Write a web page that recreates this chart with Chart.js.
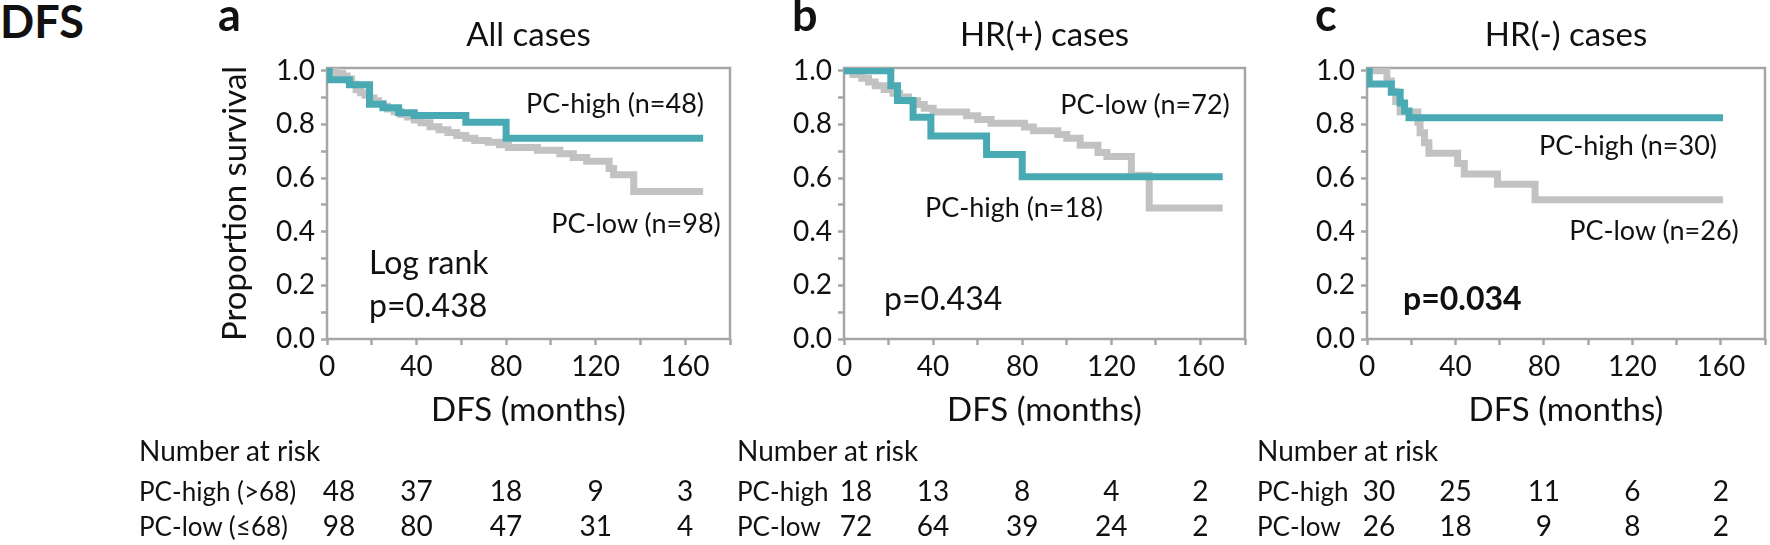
<!DOCTYPE html>
<html><head><meta charset="utf-8">
<script src="https://cdn.jsdelivr.net/npm/chart.js@4"></script>
<style>
html,body{margin:0;padding:0;background:#fff;}
#root{position:relative;width:1770px;height:545px;overflow:hidden;font-family:Lato,sans-serif;color:#111;}
canvas{position:absolute;top:0;}
.t{position:absolute;white-space:nowrap;line-height:1;}
</style></head><body><div id="root"></div>
<script>
// ---------- DATA ----------
const xTickValues = [0,20,40,60,80,100,120,140,160,180];
const xLabelValues = [0,40,80,120,160];
const yTickValues = [0,0.1,0.2,0.3,0.4,0.5,0.6,0.7,0.8,0.9,1.0];
const riskTimes = [0,40,80,120,160];

// Panel a: All cases
const aHighT = [0,1,10,19,25,32,39,62,80,168];
const aHighS = [1,0.966,0.948,0.875,0.862,0.843,0.833,0.808,0.748,0.748];
const aLowT = [0,4,7,9,11,13,15,17,19,21,23,25,27,30,33,36,39,42,46,50,54,58,62,66,72,77,81,94,104,110,116,126,128,137,168];
const aLowS = [1,0.99,0.98,0.969,0.949,0.929,0.918,0.908,0.898,0.888,0.878,0.867,0.857,0.847,0.837,0.827,0.816,0.806,0.791,0.78,0.77,0.758,0.748,0.74,0.733,0.724,0.714,0.703,0.69,0.676,0.662,0.635,0.612,0.55,0.55];
// Panel b: HR(+) cases
const bHighT = [0,21,24,31,39,64,80,170];
const bHighS = [1,0.944,0.889,0.826,0.757,0.688,0.605,0.605];
const bLowT = [0,4,8,11,14,18,22,25,29,33,36,40,55,60,66,81,85,96,100,106,114,118,129,137,170];
const bLowS = [1,0.986,0.972,0.958,0.944,0.93,0.916,0.902,0.888,0.874,0.86,0.846,0.832,0.818,0.804,0.79,0.776,0.762,0.748,0.722,0.695,0.68,0.61,0.488,0.488];
// Panel c: HR(-) cases
const cHighT = [0,1,11,15,17,19,161];
const cHighS = [1,0.95,0.92,0.88,0.85,0.825,0.825];
const cLowT = [0,9,11,13,15,23,24,26,28,41,44,59,76,161];
const cLowS = [1,0.962,0.923,0.885,0.846,0.808,0.769,0.731,0.692,0.654,0.615,0.577,0.519,0.519];

// Number at risk
const aRiskHigh = [48,37,18,9,3];
const aRiskLow = [98,80,47,31,4];
const bRiskHigh = [18,13,8,4,2];
const bRiskLow = [72,64,39,24,2];
const cRiskHigh = [30,25,11,6,2];
const cRiskLow = [26,18,9,8,2];

const aLabels = ['PC-high (>68)','PC-low (\u226468)'];
const bLabels = ['PC-high','PC-low'];
const cLabels = ['PC-high','PC-low'];

// ---------- STYLE ----------
const TEAL = '#49aab3';
const GREY = '#c2c2c2';
const AXIS = '#a6a6a6';
const FONT = 'Lato';
const root = document.getElementById('root');

function txt(s, x, base, size, opts) {
  opts = opts || {};
  const d = document.createElement('div');
  d.className = 't';
  d.textContent = s;
  d.style.fontSize = size + 'px';
  d.style.fontWeight = opts.bold ? '700' : '400';
  d.style.top = (base - 0.887 * size) + 'px';
  if (opts.align === 'center') { d.style.left = x + 'px'; d.style.transform = 'translateX(-50%)'; }
  else if (opts.align === 'right') { d.style.right = (1770 - x) + 'px'; }
  else { d.style.left = x + 'px'; }
  root.appendChild(d);
  return d;
}

const framePlugin = {
  id: 'frame',
  beforeDatasetsDraw(chart) {
    const {ctx, chartArea: {left, top, right, bottom}} = chart;
    ctx.save();
    ctx.strokeStyle = AXIS;
    ctx.lineWidth = 2.5;
    ctx.strokeRect(left, top, right - left, bottom - top);
    ctx.restore();
  }
};

function xy(T, S) { return T.map((t, i) => ({x: t, y: S[i]})); }

function makePanel(p) {
  const cv = document.createElement('canvas');
  cv.width = p.w; cv.height = 440;
  cv.style.left = p.left + 'px';
  root.appendChild(cv);
  const yScale = {
    type: 'linear', min: 0, max: 1.01,
    afterBuildTicks: s => { s.ticks = yTickValues.map(v => ({value: v})); },
    afterFit: s => { s.width = p.yw; },
    ticks: {
      autoSkip: false, padding: 6, color: '#111',
      font: {family: FONT, size: 28},
      callback: v => (Math.round(v * 10) % 2 === 0) ? v.toFixed(1) : ''
    },
    grid: {display: true, drawOnChartArea: false, drawTicks: true, tickLength: 6, tickColor: AXIS, tickWidth: 2.5},
    border: {display: false}
  };
  if (p.yTitle) {
    yScale.title = {display: true, text: 'Proportion survival', color: '#111',
      font: {family: FONT, size: 33}, padding: {top: 36, bottom: 0}};
  }
  const chart = new Chart(cv, {
    type: 'line',
    data: {datasets: [
      {data: xy(p.hT, p.hS), borderColor: TEAL, borderWidth: 7, stepped: true, pointRadius: 0, fill: false, order: 0, borderJoinStyle: 'miter', borderCapStyle: 'butt'},
      {data: xy(p.lT, p.lS), borderColor: GREY, borderWidth: 7, stepped: true, pointRadius: 0, fill: false, order: 1, borderJoinStyle: 'miter', borderCapStyle: 'butt'}
    ]},
    options: {
      responsive: false, animation: false, events: [],
      layout: {padding: {left: 0, right: p.rp, top: 68, bottom: 0}},
      plugins: {legend: {display: false}, tooltip: {enabled: false}},
      scales: {
        x: {
          type: 'linear', min: 0, max: 180,
          afterBuildTicks: s => { s.ticks = xTickValues.map(v => ({value: v})); },
          afterFit: s => { s.height = 101; },
          ticks: {
            autoSkip: false, maxRotation: 0, padding: 5, color: '#111',
            font: {family: FONT, size: 28},
            callback: v => xLabelValues.includes(v) ? String(v) : ''
          },
          grid: {display: true, drawOnChartArea: false, drawTicks: true, tickLength: 6, tickColor: AXIS, tickWidth: 2.5},
          border: {display: false},
          title: {display: true, text: 'DFS (months)', color: '#111',
            font: {family: FONT, size: 33}, padding: {top: 0, bottom: 10}}
        },
        y: yScale
      }
    },
    plugins: [framePlugin]
  });
  // panel letter and title
  const ca = chart.chartArea;
  const cx = p.left + (ca.left + ca.right) / 2;
  txt(p.letter, p.letterX, 32, 45, {bold: true});
  txt(p.title, cx, 46, 33, {align: 'center'});
  // number at risk table
  txt('Number at risk', p.tableX, 461, 28);
  txt(p.rowLabels[0], p.tableX, 501, 26);
  txt(p.rowLabels[1], p.tableX, 536, 26);
  riskTimes.forEach((t, i) => {
    const px = p.left + chart.scales.x.getPixelForValue(t) + (i === 0 ? 12 : 0);
    txt(String(p.riskH[i]), px, 501, 28, {align: 'center'});
    txt(String(p.riskL[i]), px, 536, 28, {align: 'center'});
  });
  return chart;
}

txt('DFS', 0, 39, 45, {bold: true});

makePanel({left: 180, w: 570, yw: 147, rp: 20, yTitle: true, letter: 'a', letterX: 218, title: 'All cases',
  hT: aHighT, hS: aHighS, lT: aLowT, lS: aLowS, tableX: 139, rowLabels: aLabels, riskH: aRiskHigh, riskL: aRiskLow});
makePanel({left: 760, w: 500, yw: 84, rp: 15, yTitle: false, letter: 'b', letterX: 792, title: 'HR(+) cases',
  hT: bHighT, hS: bHighS, lT: bLowT, lS: bLowS, tableX: 737, rowLabels: bLabels, riskH: bRiskHigh, riskL: bRiskLow});
makePanel({left: 1283, w: 487, yw: 84, rp: 3, yTitle: false, letter: 'c', letterX: 1315, title: 'HR(-) cases',
  hT: cHighT, hS: cHighS, lT: cLowT, lS: cLowS, tableX: 1257, rowLabels: cLabels, riskH: cRiskHigh, riskL: cRiskLow});

// annotations
txt('PC-high (n=48)', 615, 113, 27, {align: 'center'});
txt('PC-low (n=98)', 636, 233, 27, {align: 'center'});
txt('Log rank', 369, 274, 32);
txt('p=0.438', 369, 317, 32);
txt('PC-low (n=72)', 1145, 114, 27, {align: 'center'});
txt('PC-high (n=18)', 1014, 217, 27, {align: 'center'});
txt('p=0.434', 884, 310, 32);
txt('PC-high (n=30)', 1628, 155, 27, {align: 'center'});
txt('PC-low (n=26)', 1654, 240, 27, {align: 'center'});
txt('p=0.034', 1403, 310, 32, {bold: true});
</script>
</body></html>
